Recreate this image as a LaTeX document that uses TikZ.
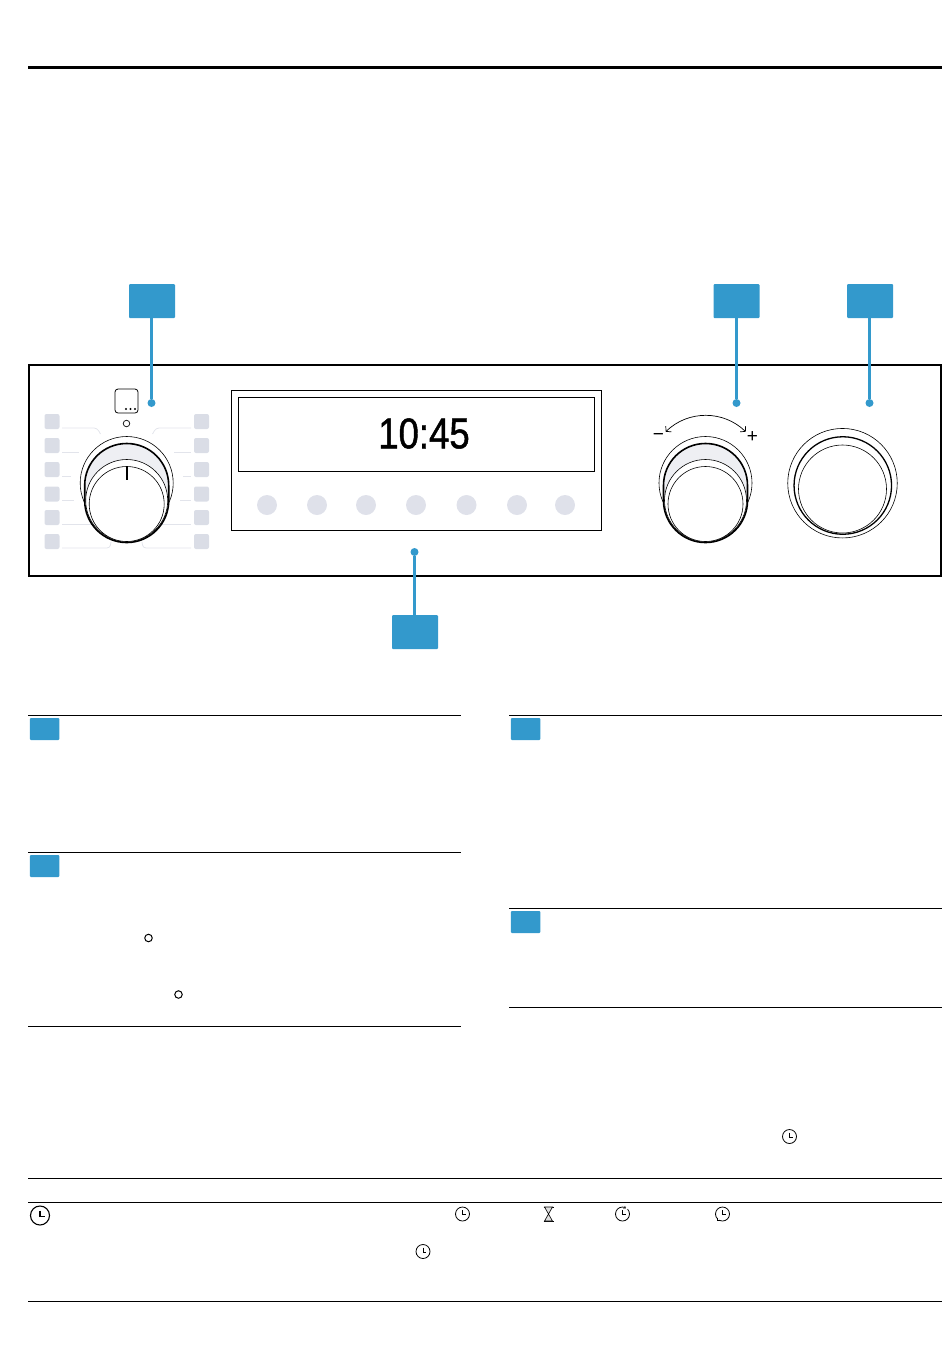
\documentclass[tikz,border=0pt]{standalone}
\usepackage{fontspec}
\usetikzlibrary{arrows.meta}
\setmainfont{Liberation Sans}
\newfontfamily\lcdfont[FakeBold=1.2]{Liberation Sans}
\definecolor{callblue}{HTML}{3399CC}
\definecolor{keygray}{HTML}{DADDE6}
\definecolor{btngray}{HTML}{DFE1EA}
\definecolor{ringgray}{HTML}{EEEFF3}
\definecolor{tracegray}{HTML}{E2E4EB}

\begin{document}
\begin{tikzpicture}[
    x=1pt, y=-1pt,
    call node/.style={rectangle,fill=callblue,rounded corners=1pt,minimum width=46pt,minimum height=34pt,inner sep=0pt},
    tag node/.style={rectangle,fill=callblue,rounded corners=1pt,minimum width=29.5pt,minimum height=22pt,inner sep=0pt},
    dot node/.style={circle,fill=callblue,minimum size=8pt,inner sep=0pt},
    key node/.style={rectangle,fill=keygray,rounded corners=2pt,minimum size=15pt,inner sep=0pt},
    btn node/.style={circle,fill=btngray,minimum size=20pt,inner sep=0pt},
    thin ring/.style={circle,draw,fill=white,line width=0.6pt,inner sep=0pt},
    knob body/.style={rectangle,draw,fill=ringgray,line width=1.6pt,inner sep=0pt,minimum width=84pt,minimum height=99pt,rounded corners=41.9pt},
    clock node/.style={circle,draw,line width=0.8pt,minimum size=14pt,inner sep=0pt,
      path picture={\draw[line width=1pt] ([yshift=3.8pt]path picture bounding box.center) -- ([yshift=-0.5pt]path picture bounding box.center) -- ([xshift=3.4pt,yshift=-0.5pt]path picture bounding box.center);}},
    big clock/.style={circle,draw,line width=1.1pt,minimum size=19pt,inner sep=0pt,
      path picture={\draw[line width=1.2pt] ([yshift=5pt]path picture bounding box.center) -- ([yshift=-0.8pt]path picture bounding box.center) -- ([xshift=4.6pt,yshift=-0.8pt]path picture bounding box.center);}},
    ok node/.style={circle,draw,line width=1pt,minimum size=7.5pt,inner sep=0pt},
    leader/.style={callblue,line width=3pt},
    rule/.style={line width=0.8pt},
    trace/.style={tracegray,line width=0.8pt},
    ]
  \useasboundingbox (0,0) rectangle (950,1369);

  \draw[line width=2.5pt] (28,67.5) -- (942,67.5);
  \draw[line width=2.5pt] (29,365) rectangle (941,576);

  % callouts
  \node[call node] (c1) at (152,301) {};
  \node[call node] (c2) at (736.5,301) {};
  \node[call node] (c3) at (870,301) {};
  \node[call node] (c4) at (415,632) {};
  \node[dot node] (d1) at (151.5,403) {};
  \node[dot node] (d2) at (736.5,403) {};
  \node[dot node] (d3) at (869.5,403) {};
  \node[dot node] (d4) at (414.5,552) {};
  \draw[leader] (c1.south -| d1) -- (d1);
  \draw[leader] (c2) -- (d2);
  \draw[leader] (c3.south -| d3) -- (d3);
  \draw[leader] (c4.north -| d4) -- (d4);

  % function keys
  \node[key node] (l1) at (52,421.5) {};
  \node[key node] (l2) at (52,445.5) {};
  \node[key node] (l3) at (52,469.5) {};
  \node[key node] (l4) at (52,494) {};
  \node[key node] (l5) at (52,517.5) {};
  \node[key node] (l6) at (52,541.5) {};
  \node[key node] (r1) at (201.5,421.5) {};
  \node[key node] (r2) at (201.5,445.5) {};
  \node[key node] (r3) at (201.5,469.5) {};
  \node[key node] (r4) at (201.5,494) {};
  \node[key node] (r5) at (201.5,517.5) {};
  \node[key node] (r6) at (201.5,541.5) {};

  \draw[trace,rounded corners=3pt] (62,428) -- (97,428) -- (100.5,434);
  \draw[trace] (62,452) -- (79,452);
  \draw[trace] (62,476.5) -- (71,476.5);
  \draw[trace] (62,500.5) -- (74,500.5);
  \draw[trace] (62,524.5) -- (92,524.5);
  \draw[trace,rounded corners=3pt] (62,548) -- (110,548) -- (111,542);
  \draw[trace,rounded corners=3pt] (191,428) -- (156,428) -- (152.5,434);
  \draw[trace] (174,452) -- (191,452);
  \draw[trace] (183,476.5) -- (191,476.5);
  \draw[trace] (180,500.5) -- (191,500.5);
  \draw[trace] (162,524.5) -- (191,524.5);
  \draw[trace,rounded corners=3pt] (191,548) -- (143,548) -- (142,542);

  \node[draw,rectangle,rounded corners=3pt,line width=0.8pt,minimum width=23pt,minimum height=24pt,inner sep=0pt] (menu) at (126.5,401) {};
  \fill (126,409) circle (1.1pt);
  \fill (130.5,409) circle (1.1pt);
  \fill (135,409) circle (1.1pt);
  \node[ok node,line width=0.7pt,minimum size=6.5pt] (lamp) at (126.5,423.5) {};

  % left knob
  \node[thin ring,minimum size=93pt] (k1a) at (126.7,483) {};
  \node[knob body] (k1b) at (126.7,493) {};
  \node[thin ring,minimum size=82pt] (k1c) at (126.7,500.5) {};
  \node[thin ring,minimum size=75pt] (k1d) at (126.7,504) {};
  \draw[line width=1.6pt] (k1d.north) -- (126.7,480);

  % display
  \draw[line width=0.8pt] (231.5,390) rectangle (601,530);
  \draw[line width=0.8pt] (238.5,397) rectangle (594,471);
  \node[font=\lcdfont\fontsize{43}{43}\selectfont,xscale=0.85,inner sep=0pt] (clock) at (424,433.5) {10:45};
  \node[btn node] (b1) at (267,505) {};
  \node[btn node] (b2) at (317,505) {};
  \node[btn node] (b3) at (366,505) {};
  \node[btn node] (b4) at (416,505) {};
  \node[btn node] (b5) at (466.5,505) {};
  \node[btn node] (b6) at (517,505) {};
  \node[btn node] (b7) at (565,505) {};

  % middle knob
  \node[thin ring,minimum size=93pt] (k2a) at (705.5,483) {};
  \node[knob body] (k2b) at (705.5,493) {};
  \node[thin ring,minimum size=82pt] (k2c) at (705.5,500.5) {};
  \node[thin ring,minimum size=75pt] (k2d) at (705.5,504) {};
  \coordinate (a1) at (665.7,431.7);
  \coordinate (a2) at (745.7,431.7);
  \draw[{Straight Barb[length=3.5pt,width=8pt]}-{Straight Barb[length=3.5pt,width=8pt]},line width=0.7pt] (a1) to[bend left=44] (a2);
  \node[font=\fontsize{19}{19}\selectfont,inner sep=0pt] (minus) at (658.5,437) {−};
  \node[font=\fontsize{19}{19}\selectfont,inner sep=0pt] (plus) at (752.3,437) {+};

  % right knob
  \node[thin ring,minimum size=109.5pt] (k3a) at (842.5,483.2) {};
  \node[circle,draw,fill=white,line width=1.3pt,inner sep=0pt,minimum size=97.5pt] (k3b) at (842.8,485.5) {};
  \node[thin ring,minimum size=88pt] (k3c) at (842.5,489) {};

  % rules and tags below
  \draw[rule] (28,715.5) -- (461,715.5);
  \draw[rule] (28,852.5) -- (461,852.5);
  \draw[rule] (28,1026) -- (461,1026);
  \draw[rule] (509,715.5) -- (942,715.5);
  \draw[rule] (509,908.5) -- (942,908.5);
  \draw[rule] (509,1007.5) -- (942,1007.5);
  \draw[rule] (28,1178.5) -- (942,1178.5);
  \draw[rule] (28,1202.5) -- (942,1202.5);
  \draw[rule] (28,1301.5) -- (942,1301.5);
  \node[tag node] (t1) at (44.7,729) {};
  \node[tag node] (t2) at (44.7,866) {};
  \node[tag node] (t3) at (525.7,729) {};
  \node[tag node] (t4) at (525.7,922) {};
  \node[ok node] (o1) at (148.5,938) {};
  \node[ok node] (o2) at (178.5,994.5) {};

  % symbols in the text
  \node[big clock] (s0) at (40,1215.5) {};
  \node[clock node] (s1) at (462.5,1214) {};
  \node[clock node] (s2) at (423,1251.5) {};
  \node[clock node] (s3) at (789.5,1136.5) {};
  \node[clock node] (s4) at (622.5,1214) {};
  \node[clock node] (s5) at (722.5,1214) {};
  \draw[white,line width=1.6pt] (625,1207.2) -- (627.5,1209);
  \draw[line width=0.7pt] (624.8,1206) -- (625.4,1208) -- (623.4,1208.2);
  \draw[white,line width=1.6pt] (717,1218.5) -- (719.5,1220.5);
  \draw[line width=0.7pt] (717.6,1217.6) -- (717.6,1220) -- (720,1220);
  \draw[line width=0.8pt] (543.5,1207) -- (553.5,1207) (543.5,1221) -- (553.5,1221);
  \draw[line width=0.6pt,fill=gray!25] (544.5,1207) -- (552.5,1221) -- (544.5,1221) -- (552.5,1207) -- cycle;
\end{tikzpicture}
\end{document}
